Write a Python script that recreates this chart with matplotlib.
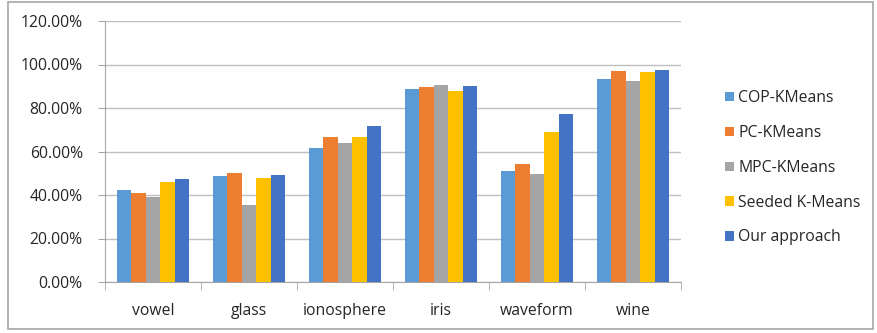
import matplotlib.pyplot as plt
from matplotlib.patches import Rectangle
from matplotlib.ticker import PercentFormatter
import numpy as np

plt.rcParams['font.family'] = ['Open Sans', 'DejaVu Sans']

# accuracy per dataset for each method (%)
datasets = ["vowel", "glass", "ionosphere", "iris", "waveform", "wine"]
methods = ["COP-KMeans", "PC-KMeans", "MPC-KMeans", "Seeded K-Means", "Our approach"]
cop_kmeans = [42.1, 48.7, 61.8, 88.8, 50.9, 93.3]
pc_kmeans = [40.9, 50.0, 66.8, 89.7, 54.2, 97.0]
mpc_kmeans = [39.0, 35.2, 63.9, 90.6, 49.5, 92.6]
seeded_kmeans = [45.8, 47.9, 66.8, 87.6, 69.1, 96.5]
our_approach = [47.5, 49.2, 71.9, 90.2, 77.1, 97.4]

series = [cop_kmeans, pc_kmeans, mpc_kmeans, seeded_kmeans, our_approach]
colors = ["#5B9BD5", "#ED7D31", "#A5A5A5", "#FFC000", "#4472C4"]

fig = plt.figure(figsize=(8.78, 3.33), dpi=100)
ax = fig.add_axes([105/878, 1 - 282/333, 576/878, 261/333])

x = np.arange(len(datasets))
w = 0.152
for i, (vals, c) in enumerate(zip(series, colors)):
    ax.bar(x + (i - 2) * w, vals, w, color=c, label=methods[i], zorder=3)

fs = 11.3
ax.set_xlim(-0.5, len(datasets) - 0.5)
ax.set_ylim(0, 120)
ax.set_yticks(np.arange(0, 121, 20))
ax.yaxis.set_major_formatter(PercentFormatter(decimals=2))
ax.set_xticks(x)
ax.set_xticklabels(datasets)
ax.set_xticks(np.arange(-0.5, len(datasets)), minor=True)
ax.tick_params(axis='x', which='major', length=0, pad=15, labelsize=fs, colors='#262626')
ax.tick_params(axis='x', which='minor', length=6, color='#a6a6a6')
ax.tick_params(axis='y', length=5, color='#a6a6a6', labelsize=fs, labelcolor='#262626', pad=11)
ax.grid(axis='y', color='#bfbfbf', linewidth=1, zorder=0)
for s in ['top', 'right']:
    ax.spines[s].set_visible(False)
for s in ['left', 'bottom']:
    ax.spines[s].set_color('#a6a6a6')

fig.legend(loc='upper left', bbox_to_anchor=(711/878, 1 - 76/333), frameon=False,
           handlelength=0.55, handleheight=0.55, handletextpad=0.3,
           labelspacing=1.2, fontsize=fs, labelcolor='#262626')

fig.patches.append(Rectangle((8/878, 1 - 329/333), 865/878, 327.5/333,
                             transform=fig.transFigure, fill=False,
                             edgecolor='#a6a6a6', linewidth=1.2))

fig.savefig("out.png", dpi=100)
